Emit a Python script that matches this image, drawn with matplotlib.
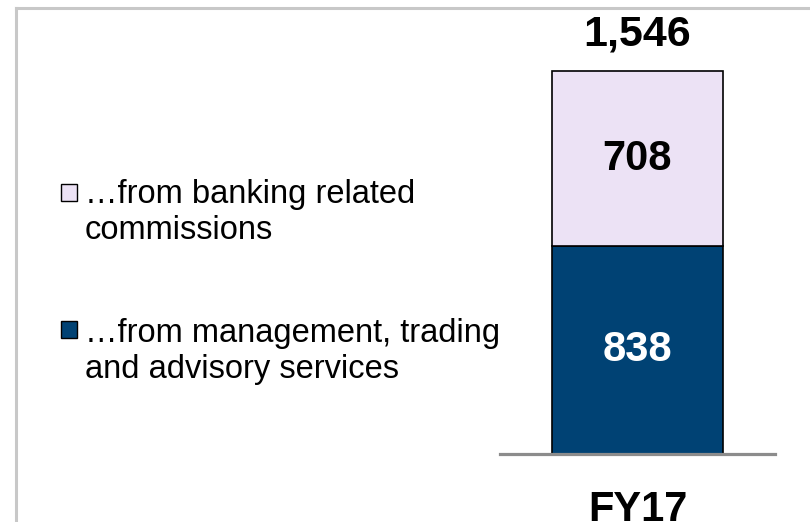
import matplotlib
matplotlib.use("Agg")
import matplotlib.pyplot as plt
from matplotlib.patches import Rectangle
from matplotlib.lines import Line2D

plt.rcParams["font.family"] = ["Liberation Sans", "DejaVu Sans"]

# data
period = ["FY17"]
management = [838]      # ...from management, trading and advisory services
banking = [708]         # ...from banking related commissions
total = [m + b for m, b in zip(management, banking)]
legend_lines = [
    ["\u2026from banking related", "commissions"],
    ["\u2026from management, trading", "and advisory services"],
]

NAVY = "#004274"
LAVENDER = "#ece2f5"
W, H = 810, 522

fig = plt.figure(figsize=(W / 100, H / 100), dpi=100)

# slide frame (top and left edges)
fig.add_artist(Line2D([16 / W, 1], [1 - 8 / H] * 2, color="#c8c8c8", lw=2.2))
fig.add_artist(Line2D([16 / W] * 2, [0, 1 - 8 / H], color="#c8c8c8", lw=2.2))

# bar axes: x 500..775 px, y baseline 454 px .. total at 71 px
ax = fig.add_axes([500 / W, (H - 454) / H, 275 / W, (454 - 71) / H])
ax.set_xlim(-0.8, 0.8)
ax.set_ylim(0, total[0])
for s in ax.spines.values():
    s.set_visible(False)
ax.patch.set_alpha(0)
ax.set_yticks([])

x = list(range(len(period)))
ax.bar(x, management, width=1.0, color=NAVY, edgecolor="black", linewidth=1.2,
       zorder=2, clip_on=False)
ax.bar(x, banking, bottom=management, width=1.0, color=LAVENDER,
       edgecolor="black", linewidth=1.2, zorder=2, clip_on=False)
ax.axhline(0, color="#8c8c8c", lw=2.3, zorder=3, clip_on=False)

for xi, m, b, t in zip(x, management, banking, total):
    ax.text(xi, m / 2, f"{m:,}", ha="center", va="center", color="white",
            fontsize=30, fontweight="bold", zorder=4)
    ax.text(xi, m + b / 2, f"{b:,}", ha="center", va="center", color="black",
            fontsize=30, fontweight="bold", zorder=4)
    ax.annotate(f"{t:,}", (xi, t), xytext=(0, 26), textcoords="offset points",
                ha="center", va="center", fontsize=31, fontweight="bold",
                annotation_clip=False)

ax.set_xticks(x, period, fontsize=30, fontweight="bold")
ax.tick_params(axis="x", length=0, pad=26)

# legend drawn by hand: swatch + two text lines per entry
colors = [LAVENDER, NAVY]
box_tops = [184, 321]
baselines = [(203, 239), (342, 378)]
for c, top, lines, bls in zip(colors, box_tops, legend_lines, baselines):
    fig.add_artist(Rectangle((61 / W, 1 - (top + 17) / H), 16 / W, 17 / H,
                             facecolor=c, edgecolor="black", lw=1.0,
                             transform=fig.transFigure))
    for txt, bl in zip(lines, bls):
        fig.text(85 / W, 1 - bl / H, txt, fontsize=23.5, va="baseline",
                 ha="left", color="black")

fig.savefig("out.png", dpi=100)
